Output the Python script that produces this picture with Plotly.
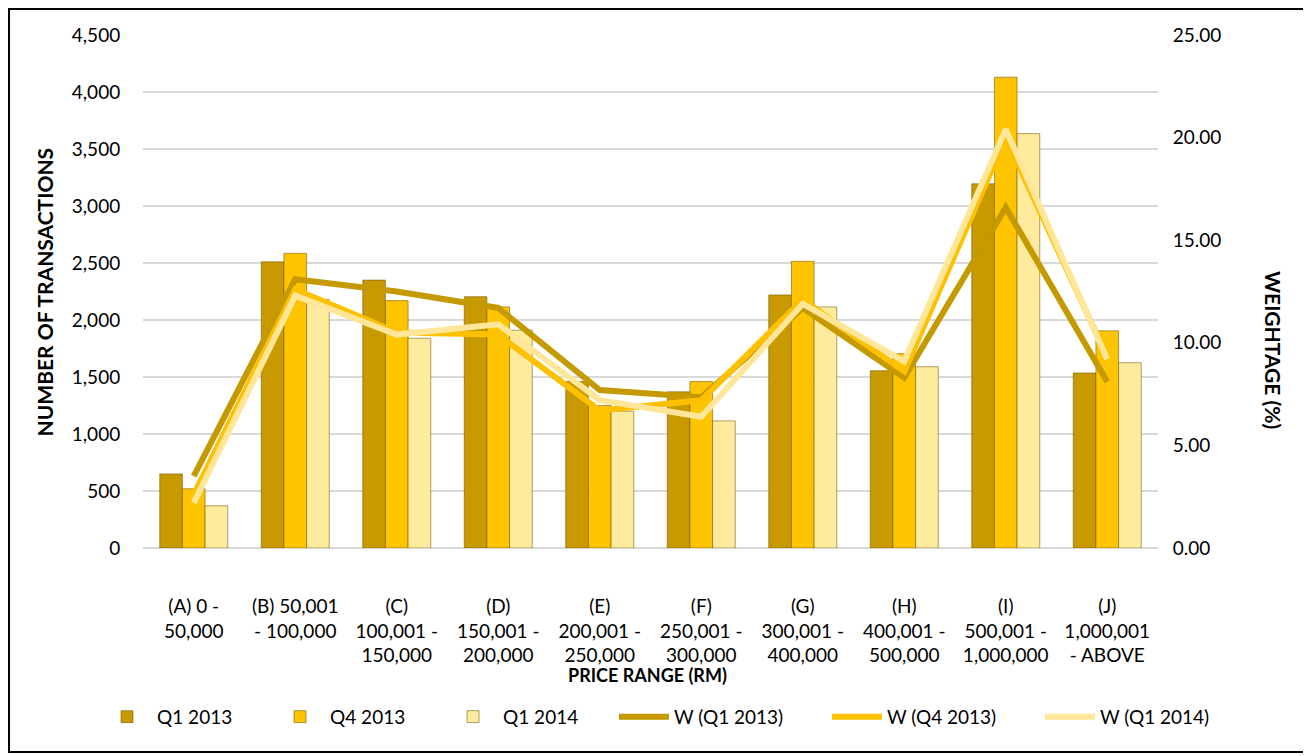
import plotly.graph_objects as go

# price ranges (x categories)
categories = [
    "(A) 0 -<br>50,000",
    "(B) 50,001<br>- 100,000",
    "(C)<br>100,001 -<br>150,000",
    "(D)<br>150,001 -<br>200,000",
    "(E)<br>200,001 -<br>250,000",
    "(F)<br>250,001 -<br>300,000",
    "(G)<br>300,001 -<br>400,000",
    "(H)<br>400,001 -<br>500,000",
    "(I)<br>500,001 -<br>1,000,000",
    "(J)<br>1,000,001<br>- ABOVE",
]

# number of transactions
q1_2013 = [650, 2510, 2350, 2205, 1460, 1370, 2220, 1555, 3195, 1535]
q4_2013 = [520, 2585, 2170, 2115, 1250, 1460, 2515, 1705, 4130, 1905]
q1_2014 = [370, 2180, 1840, 1910, 1200, 1115, 2115, 1590, 3635, 1625]

# weightage (%)
w_q1_2013 = [3.5, 13.1, 12.5, 11.7, 7.7, 7.35, 11.7, 8.3, 16.6, 8.1]
w_q4_2013 = [2.6, 12.6, 10.5, 10.4, 6.7, 7.2, 12.1, 8.6, 20.0, 9.3]
w_q1_2014 = [2.2, 12.3, 10.4, 10.9, 7.2, 6.4, 11.9, 9.1, 20.4, 9.2]

FONT = "Lato"
DARK = "#C99A00"
GOLD = "#FFC400"
PALE = "#FFEB9E"

fig = go.Figure()

# bars
for name, vals, col in [("Q1 2013", q1_2013, DARK),
                        ("Q4 2013", q4_2013, GOLD),
                        ("Q1 2014", q1_2014, PALE)]:
    fig.add_trace(go.Bar(
        x=categories, y=vals, name=name,
        marker=dict(color=col, line=dict(color="rgba(110,85,0,0.55)", width=1)),
        legend="legend",
    ))

# weightage lines
for name, vals, col in [("W (Q1 2013)", w_q1_2013, "#C49A00"),
                        ("W (Q4 2013)", w_q4_2013, "#FFC000"),
                        ("W (Q1 2014)", w_q1_2014, "#FFE699")]:
    fig.add_trace(go.Scatter(
        x=categories, y=vals, name=name, yaxis="y2",
        mode="lines", line=dict(color=col, width=6),
        legend="legend2",
    ))

# page has an 8px body margin, so the figure is 8px smaller than the window
fig.update_layout(
    width=1303, height=748,
    margin=dict(l=135, r=153, t=27, b=208),
    paper_bgcolor="white", plot_bgcolor="white",
    font=dict(family=FONT, size=19, color="#000000"),
    barmode="group", bargap=0.33, bargroupgap=0,
    xaxis=dict(
        type="category", showgrid=False, showline=False, automargin=False,
        ticks="outside", ticklen=41, tickcolor="rgba(0,0,0,0)",
        tickfont=dict(size=19),
    ),
    yaxis=dict(
        range=[0, 4500], dtick=500, tickformat=",d", automargin=False,
        showgrid=True, gridcolor="#D9D9D9", gridwidth=1.5,
        zeroline=True, zerolinecolor="#D9D9D9", zerolinewidth=1.5,
        ticks="outside", ticklen=18, tickcolor="rgba(0,0,0,0)",
    ),
    yaxis2=dict(
        range=[0, 25], dtick=5, tickformat=".2f", automargin=False,
        overlaying="y", side="right", showgrid=False, zeroline=False,
        ticks="outside", ticklen=10, tickcolor="rgba(0,0,0,0)",
    ),
    legend=dict(
        orientation="h", x=-0.0453, xanchor="left", y=-0.329, yanchor="middle",
        entrywidth=108, entrywidthmode="pixels", itemwidth=50,
        font=dict(size=19), bgcolor="rgba(0,0,0,0)",
    ),
    legend2=dict(
        orientation="h", x=0.464, xanchor="left", y=-0.329, yanchor="middle",
        entrywidth=148, entrywidthmode="pixels", itemwidth=50,
        font=dict(size=19), bgcolor="rgba(0,0,0,0)",
    ),
    annotations=[
        dict(text="<b>PRICE RANGE (RM)</b>", xref="paper", yref="paper",
             x=0.4975, y=-0.2476, xanchor="center", yanchor="middle",
             showarrow=False, font=dict(size=18)),
        dict(text="<b>NUMBER OF TRANSACTIONS</b>", xref="paper", yref="paper",
             x=-0.0966, y=0.5, xanchor="center", yanchor="middle", textangle=-90,
             showarrow=False, font=dict(size=21)),
        dict(text="<b>WEIGHTAGE (%)</b>", xref="paper", yref="paper",
             x=1.1133, y=0.386, xanchor="center", yanchor="middle", textangle=90,
             showarrow=False, font=dict(size=21)),
    ],
    shapes=[
        dict(type="rect", xref="paper", yref="paper",
             x0=-0.1320, x1=1.1468, y0=-0.3977, y1=1.0507,
             line=dict(color="black", width=2), fillcolor="rgba(0,0,0,0)",
             layer="below"),
    ],
)

fig.write_html("out.html")
